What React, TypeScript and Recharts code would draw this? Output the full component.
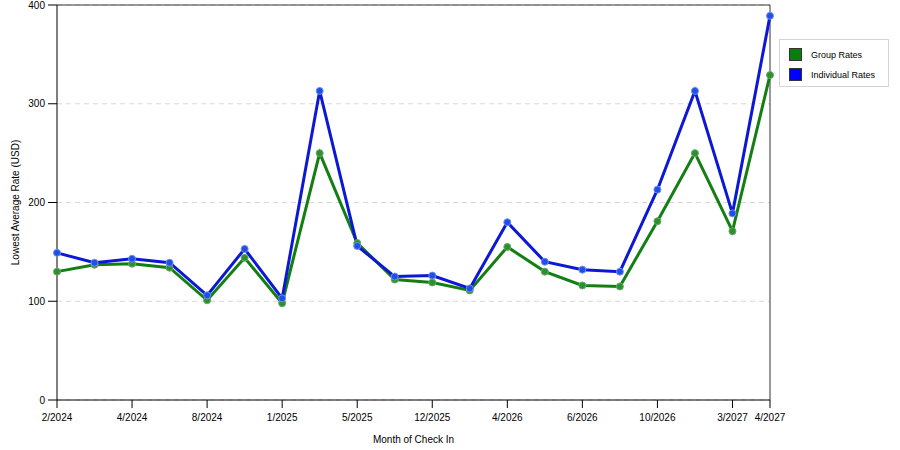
import React from "react"
import { CartesianGrid, Line, LineChart, ReferenceLine, XAxis, YAxis } from "recharts"

const months = [
  "2/2024", "3/2024", "4/2024", "6/2024", "8/2024", "10/2024", "1/2025", "3/2025",
  "5/2025", "9/2025", "12/2025", "2/2026", "4/2026", "5/2026", "6/2026", "8/2026",
  "10/2026", "12/2026", "3/2027", "4/2027",
]
const groupRates = [130, 137, 138, 134, 101, 144, 98, 250, 159, 122, 119, 111, 155, 130, 116, 115, 181, 250, 171, 329]
const individualRates = [149, 139, 143, 139, 106, 153, 103, 313, 156, 125, 126, 113, 180, 140, 132, 130, 213, 313, 189, 389]
const xTicks = ["2/2024", "4/2024", "8/2024", "1/2025", "5/2025", "12/2025", "4/2026", "6/2026", "10/2026", "3/2027", "4/2027"]
const yTicks = [0, 100, 200, 300, 400]
const seriesNames = ["Group Rates", "Individual Rates"]

const GREEN = "#137f13"
const BLUE = "#0c18d4"
const FONT = "'Liberation Sans', Arial, sans-serif"

const chartData = months.map((month, i) => ({
  month,
  group: groupRates[i],
  individual: individualRates[i],
}))

// legend sits outside the plot, so draw it as a plain box
function LegendBox() {
  const colors = ["#0a7d0a", "#0000ff"]
  return (
    <div
      style={{
        position: "absolute",
        left: 779,
        top: 39,
        width: 108,
        height: 46,
        border: "1px solid #d4d4d4",
        background: "#fff",
        fontFamily: FONT,
        fontSize: 9,
        boxSizing: "content-box",
      }}
    >
      {seriesNames.map((name, i) => (
        <div
          key={name}
          style={{ position: "absolute", left: 9, top: 8 + i * 20, display: "flex", alignItems: "center", height: 13 }}
        >
          <span
            style={{
              display: "inline-block",
              width: 11,
              height: 11,
              background: colors[i],
              border: "1px solid #333",
              marginRight: 9,
            }}
          />
          <span style={{ color: "#000" }}>{name}</span>
        </div>
      ))}
    </div>
  )
}

export default function App() {
  const tick = { fill: "#000", fontSize: 10, fontFamily: FONT }
  return (
    <div style={{ position: "absolute", left: 0, top: 0, width: 900, height: 450, background: "#fff" }}>
      <LineChart width={900} height={450} data={chartData} margin={{ top: 5, right: 130, left: 0, bottom: 15 }}>
        <CartesianGrid horizontal vertical={false} stroke="#d8d8d8" strokeDasharray="5 4" />
        <XAxis
          dataKey="month"
          ticks={xTicks}
          interval={0}
          height={35}
          tick={tick}
          tickSize={8}
          tickMargin={6}
          tickLine={{ stroke: "#000" }}
          axisLine={{ stroke: "#000" }}
          label={{ value: "Month of Check In", position: "insideBottom", offset: -8, style: { fill: "#000", fontSize: 10, fontFamily: FONT } }}
        />
        <YAxis
          domain={[0, 400]}
          ticks={yTicks}
          width={57}
          tick={tick}
          tickSize={9}
          tickMargin={3}
          tickLine={{ stroke: "#000" }}
          axisLine={{ stroke: "#000" }}
          label={{
            content: ({ viewBox }: any) => {
              const cx = 19
              const cy = viewBox.y + viewBox.height / 2
              return (
                <text
                  x={cx}
                  y={cy}
                  transform={`rotate(-90 ${cx} ${cy})`}
                  textAnchor="middle"
                  style={{ fill: "#000", fontSize: 10, fontFamily: FONT }}
                >
                  Lowest Average Rate (USD)
                </text>
              )
            },
          }}
        />
        <ReferenceLine y={400} stroke="#333" />
        <ReferenceLine x="4/2027" stroke="#333" />
        <Line
          type="linear"
          dataKey="group"
          name={seriesNames[0]}
          stroke={GREEN}
          strokeWidth={3}
          dot={{ r: 3.5, fill: "#2e8f2e", stroke: "#6aa86a", strokeWidth: 1 }}
          activeDot={false}
          isAnimationActive={false}
        />
        <Line
          type="linear"
          dataKey="individual"
          name={seriesNames[1]}
          stroke={BLUE}
          strokeWidth={3}
          dot={{ r: 3.5, fill: "#1f4fe6", stroke: "#6f8ff0", strokeWidth: 1 }}
          activeDot={false}
          isAnimationActive={false}
        />
      </LineChart>
      <LegendBox />
    </div>
  )
}
